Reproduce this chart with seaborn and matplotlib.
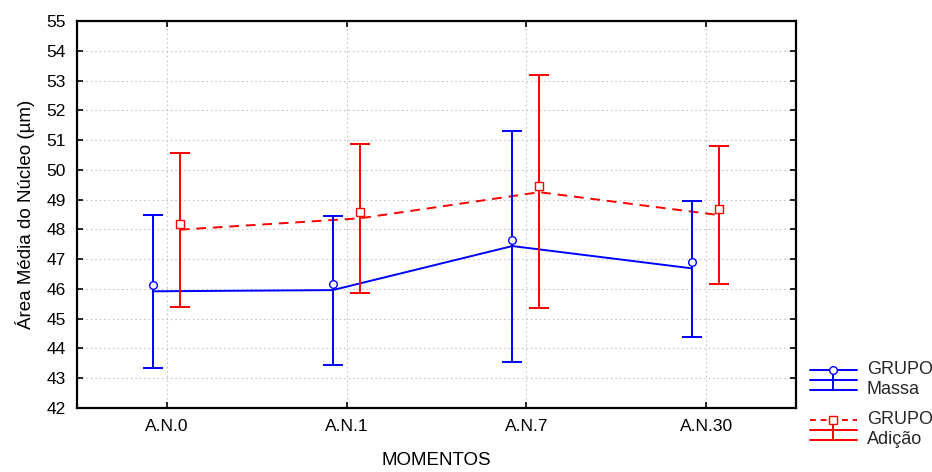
import matplotlib
matplotlib.use("Agg")
import matplotlib.pyplot as plt
import matplotlib.transforms as mtransforms
from matplotlib.legend_handler import HandlerBase
from matplotlib.lines import Line2D
import seaborn as sns
import pandas as pd
import numpy as np

# ---- data ----
moments = ["A.N.0", "A.N.1", "A.N.7", "A.N.30"]
massa_mean = [45.92, 45.96, 47.44, 46.69]
massa_low = [43.33, 43.45, 43.56, 44.39]
massa_high = [48.49, 48.46, 51.31, 48.96]
adicao_mean = [47.99, 48.37, 49.25, 48.48]
adicao_low = [45.39, 45.87, 45.35, 46.15]
adicao_high = [50.55, 50.87, 53.18, 50.80]
group_labels = ["GRUPO\nMassa", "GRUPO\nAdição"]
y_ticks = list(range(42, 56))

sns.set_theme(style="white")
plt.rcParams["font.family"] = ["Liberation Sans", "DejaVu Sans"]

fig = plt.figure(figsize=(9.32, 4.72), dpi=100)
ax = fig.add_axes([77 / 932, 1 - 408 / 472, (796 - 77) / 932, (408 - 21) / 472])

blue = "#0000ff"
red = "#ff0000"
idx = np.arange(len(moments))
offsets = [-0.078, 0.072]

rows = []
for lab, means, off in zip(group_labels, [massa_mean, adicao_mean], offsets):
    for i, m in enumerate(means):
        rows.append({"pos": idx[i] + off, "mean": m, "grupo": lab})
df = pd.DataFrame(rows)

sns.lineplot(data=df, x="pos", y="mean", hue="grupo", style="grupo",
             palette=[blue, red], dashes=[(None, None), (5, 3.5)],
             linewidth=1.4, legend=False, ax=ax, sort=False, zorder=3)

mark_tr = mtransforms.offset_copy(ax.transData, fig=fig, x=0, y=6, units="dots")
specs = [
    (massa_mean, massa_low, massa_high, offsets[0], blue, "o"),
    (adicao_mean, adicao_low, adicao_high, offsets[1], red, "s"),
]
for means, lo, hi, off, col, mk in specs:
    means = np.array(means)
    yerr = [means - np.array(lo), np.array(hi) - means]
    ax.errorbar(idx + off, means, yerr=yerr, fmt="none", ecolor=col,
                elinewidth=1.4, capsize=7, capthick=1.4, zorder=3)
    ax.plot(idx + off, means, linestyle="none", marker=mk, markersize=5.5,
            markerfacecolor="white", markeredgecolor=col, markeredgewidth=1.0,
            transform=mark_tr, zorder=4)


class GlyphHandler(HandlerBase):
    def __init__(self, color, marker, ls):
        super().__init__()
        self.color, self.marker, self.ls = color, marker, ls

    def create_artists(self, legend, orig_handle, xdescent, ydescent, width,
                       height, fontsize, trans):
        x0 = -xdescent
        x1 = x0 + width
        xm = (x0 + x1) / 2
        yb = -ydescent
        yt = yb + height
        ym = (yb + yt) / 2
        kw = dict(color=self.color, lw=1.4, transform=trans)
        arts = [
            Line2D([x0, x1], [yt, yt], ls=self.ls, **kw),
            Line2D([x0, x1], [ym, ym], **kw),
            Line2D([x0, x1], [yb, yb], **kw),
            Line2D([xm, xm], [yb, yt], **kw),
            Line2D([xm], [yt], ls="none", marker=self.marker, markersize=5.5,
                   markerfacecolor="white", markeredgecolor=self.color,
                   markeredgewidth=1.0, transform=trans),
        ]
        return arts


handles = [Line2D([], [], color=blue), Line2D([], [], color=red)]
hmap = {handles[0]: GlyphHandler(blue, "o", "-"),
        handles[1]: GlyphHandler(red, "s", (0, (3, 2.5)))}

ax.set_xlim(-0.5, 3.5)
ax.set_ylim(42, 55)
ax.set_xticks(idx)
ax.set_xticklabels(moments)
ax.set_yticks(y_ticks)
ax.grid(True, color="#c4c4c4", linestyle=(0, (1.5, 2.5)), linewidth=0.8)
ax.set_axisbelow(True)
for s in ax.spines.values():
    s.set_color("black")
    s.set_linewidth(1.6)
ax.tick_params(axis="both", direction="in", length=4, width=1.2, color="black",
               labelsize=12.5, labelcolor="black", left=True, bottom=True,
               right=True, top=True)
ax.tick_params(axis="y", pad=8)
ax.tick_params(axis="x", pad=8)
ax.set_xlabel("MOMENTOS", fontsize=13.5, color="black", labelpad=13)
ax.set_ylabel("Área Média do Núcleo (µm)", fontsize=13.5, color="black", labelpad=8)

fig.legend(handles=handles, labels=group_labels, handler_map=hmap, loc="upper left",
           bbox_to_anchor=(810 / 932, 1 - 361 / 472), frameon=False,
           fontsize=13, handlelength=2.6, handleheight=1.3, handletextpad=0.55,
           labelspacing=0.75, borderaxespad=0, borderpad=0)

fig.savefig("out.png", dpi=100)
